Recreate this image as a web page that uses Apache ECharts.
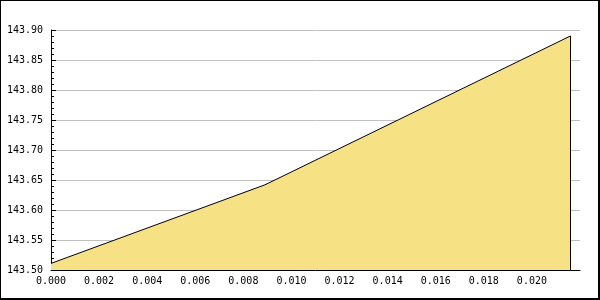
<!DOCTYPE html>
<html>
<head>
<meta charset="utf-8">
<script src="https://cdn.jsdelivr.net/npm/echarts@6/dist/echarts.min.js"></script>
<style>
html,body{margin:0;padding:0;background:#fff;}
#frame{position:absolute;left:0;top:0;width:600px;height:300px;box-sizing:border-box;border-left:1px solid #000;border-top:1px solid #000;border-right:2px solid #000;border-bottom:2px solid #000;}
#c{position:absolute;left:0;top:0;width:600px;height:300px;}
</style>
</head>
<body>
<div id="c"></div>
<div id="frame"></div>
<script>
const xValues = [0, 0.0089, 0.0216];
const yValues = [143.511, 143.642, 143.89];
const xTicks = [0, 0.002, 0.004, 0.006, 0.008, 0.010, 0.012, 0.014, 0.016, 0.018, 0.020];
const yTicks = [143.50, 143.55, 143.60, 143.65, 143.70, 143.75, 143.80, 143.85, 143.90];

const pts = xValues.map((x, i) => [x, yValues[i]]);
const lastX = xValues[xValues.length - 1];
const lastY = yValues[yValues.length - 1];
const yMin = yTicks[0];

const font = {fontFamily: 'DejaVu Sans Mono', fontSize: 10, color: '#000'};
const chart = echarts.init(document.getElementById('c'), null, {renderer: 'canvas'});
chart.setOption({
  animation: false,
  backgroundColor: '#fff',
  grid: {left: 51, top: 30, right: 20, bottom: 30, containLabel: false},
  xAxis: {
    type: 'value', min: 0, max: 0.022, interval: 0.002,
    axisLine: {show: true, lineStyle: {color: '#000', width: 1}},
    axisTick: {show: true, inside: true, length: 5, lineStyle: {color: '#000'}, customValues: xTicks},
    axisLabel: Object.assign({margin: 6, customValues: xTicks, formatter: v => v.toFixed(3)}, font),
    splitLine: {show: false}
  },
  yAxis: {
    type: 'value', min: 143.5, max: 143.9, interval: 0.05,
    axisLine: {show: true, lineStyle: {color: '#000', width: 1}},
    axisTick: {show: true, inside: true, length: 5, lineStyle: {color: '#000'}},
    minorTick: {show: true, splitNumber: 5, length: 3, lineStyle: {color: '#000'}},
    axisLabel: Object.assign({margin: 8, formatter: v => v.toFixed(2)}, font),
    splitLine: {show: true, lineStyle: {color: '#c0c0c0', width: 1}}
  },
  series: [{
    type: 'line',
    data: pts,
    symbol: 'none',
    lineStyle: {color: '#000', width: 1},
    areaStyle: {color: '#f6e285', opacity: 1, origin: 'start'},
    z: 3,
    markLine: {
      silent: true,
      symbol: ['none', 'none'],
      label: {show: false},
      lineStyle: {color: '#000', width: 1, type: 'solid'},
      data: [[{coord: [lastX, lastY]}, {coord: [lastX, yMin]}]]
    }
  }]
});
</script>
</body>
</html>
